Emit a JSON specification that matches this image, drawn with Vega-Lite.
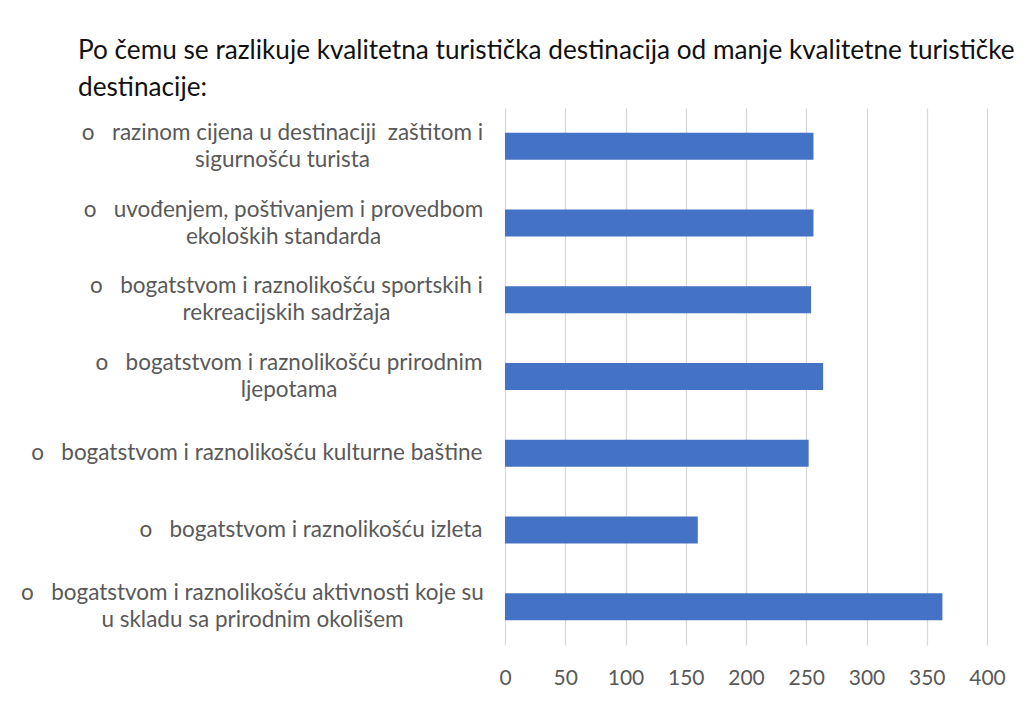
{
  "$schema": "https://vega.github.io/schema/vega-lite/v6.json",
  "width": 482,
  "height": 537,
  "autosize": {"type": "none"},
  "padding": {"left": 505, "top": 108, "right": 38, "bottom": 59},
  "background": "white",
  "title": {
    "text": ["Po čemu se razlikuje kvalitetna turistička destinacija od manje kvalitetne turističke", "destinacije:"],
    "anchor": "start",
    "frame": "group",
    "dx": -427,
    "offset": 7,
    "fontSize": 26.2,
    "font": "Lato",
    "fontWeight": "normal",
    "color": "#111111",
    "lineHeight": 37
  },
  "data": {
    "values": [
      {"kategorija": "o\u00a0\u00a0\u00a0razinom cijena u destinaciji\u00a0\u00a0zaštitom i|sigurnošću turista", "broj": 256},
      {"kategorija": "o\u00a0\u00a0\u00a0uvođenjem, poštivanjem i provedbom|ekoloških standarda", "broj": 256},
      {"kategorija": "o\u00a0\u00a0\u00a0bogatstvom i raznolikošću sportskih i|rekreacijskih sadržaja", "broj": 254},
      {"kategorija": "o\u00a0\u00a0\u00a0bogatstvom i raznolikošću prirodnim|ljepotama", "broj": 264},
      {"kategorija": "o\u00a0\u00a0\u00a0bogatstvom i raznolikošću kulturne baštine", "broj": 252},
      {"kategorija": "o\u00a0\u00a0\u00a0bogatstvom i raznolikošću izleta", "broj": 160},
      {"kategorija": "o\u00a0\u00a0\u00a0bogatstvom i raznolikošću aktivnosti koje su|u skladu sa prirodnim okolišem", "broj": 363}
    ]
  },
  "mark": {"type": "bar", "color": "#4472C4"},
  "encoding": {
    "y": {
      "field": "kategorija",
      "type": "nominal",
      "sort": null,
      "scale": {"paddingInner": 0.648, "paddingOuter": 0.324},
      "axis": {
        "title": null,
        "domain": false,
        "ticks": false,
        "grid": false,
        "labelExpr": "split(datum.label, '|')",
        "labelFont": "Lato",
        "labelFontSize": 22.5,
        "labelColor": "#595959",
        "labelLineHeight": 27,
        "labelLimit": 700,
        "labelAlign": {"condition": {"test": "indexof(datum.value, '|') >= 0", "value": "center"}, "value": "right"},
        "labelPadding": {
          "condition": [
            {"test": "indexof(datum.value, 'razinom') >= 0", "value": 223},
            {"test": "indexof(datum.value, 'uvođenjem') >= 0", "value": 222},
            {"test": "indexof(datum.value, 'sportskih') >= 0", "value": 219},
            {"test": "indexof(datum.value, 'prirodnim|') >= 0", "value": 216.5},
            {"test": "indexof(datum.value, 'aktivnosti') >= 0", "value": 253}
          ],
          "value": 23
        },
        "labelOffset": {"condition": {"test": "indexof(datum.value, '|') >= 0", "value": -13.5}, "value": 0}
      }
    },
    "x": {
      "field": "broj",
      "type": "quantitative",
      "scale": {"domain": [0, 400], "nice": false},
      "axis": {
        "title": null,
        "values": [0, 50, 100, 150, 200, 250, 300, 350, 400],
        "domain": false,
        "ticks": false,
        "grid": true,
        "gridColor": "#D9D9D9",
        "gridWidth": 1.3,
        "labelFont": "Lato",
        "labelFontSize": 21,
        "labelColor": "#595959",
        "labelPadding": 22,
        "labelFlush": false
      }
    }
  },
  "config": {"view": {"stroke": null}}
}
